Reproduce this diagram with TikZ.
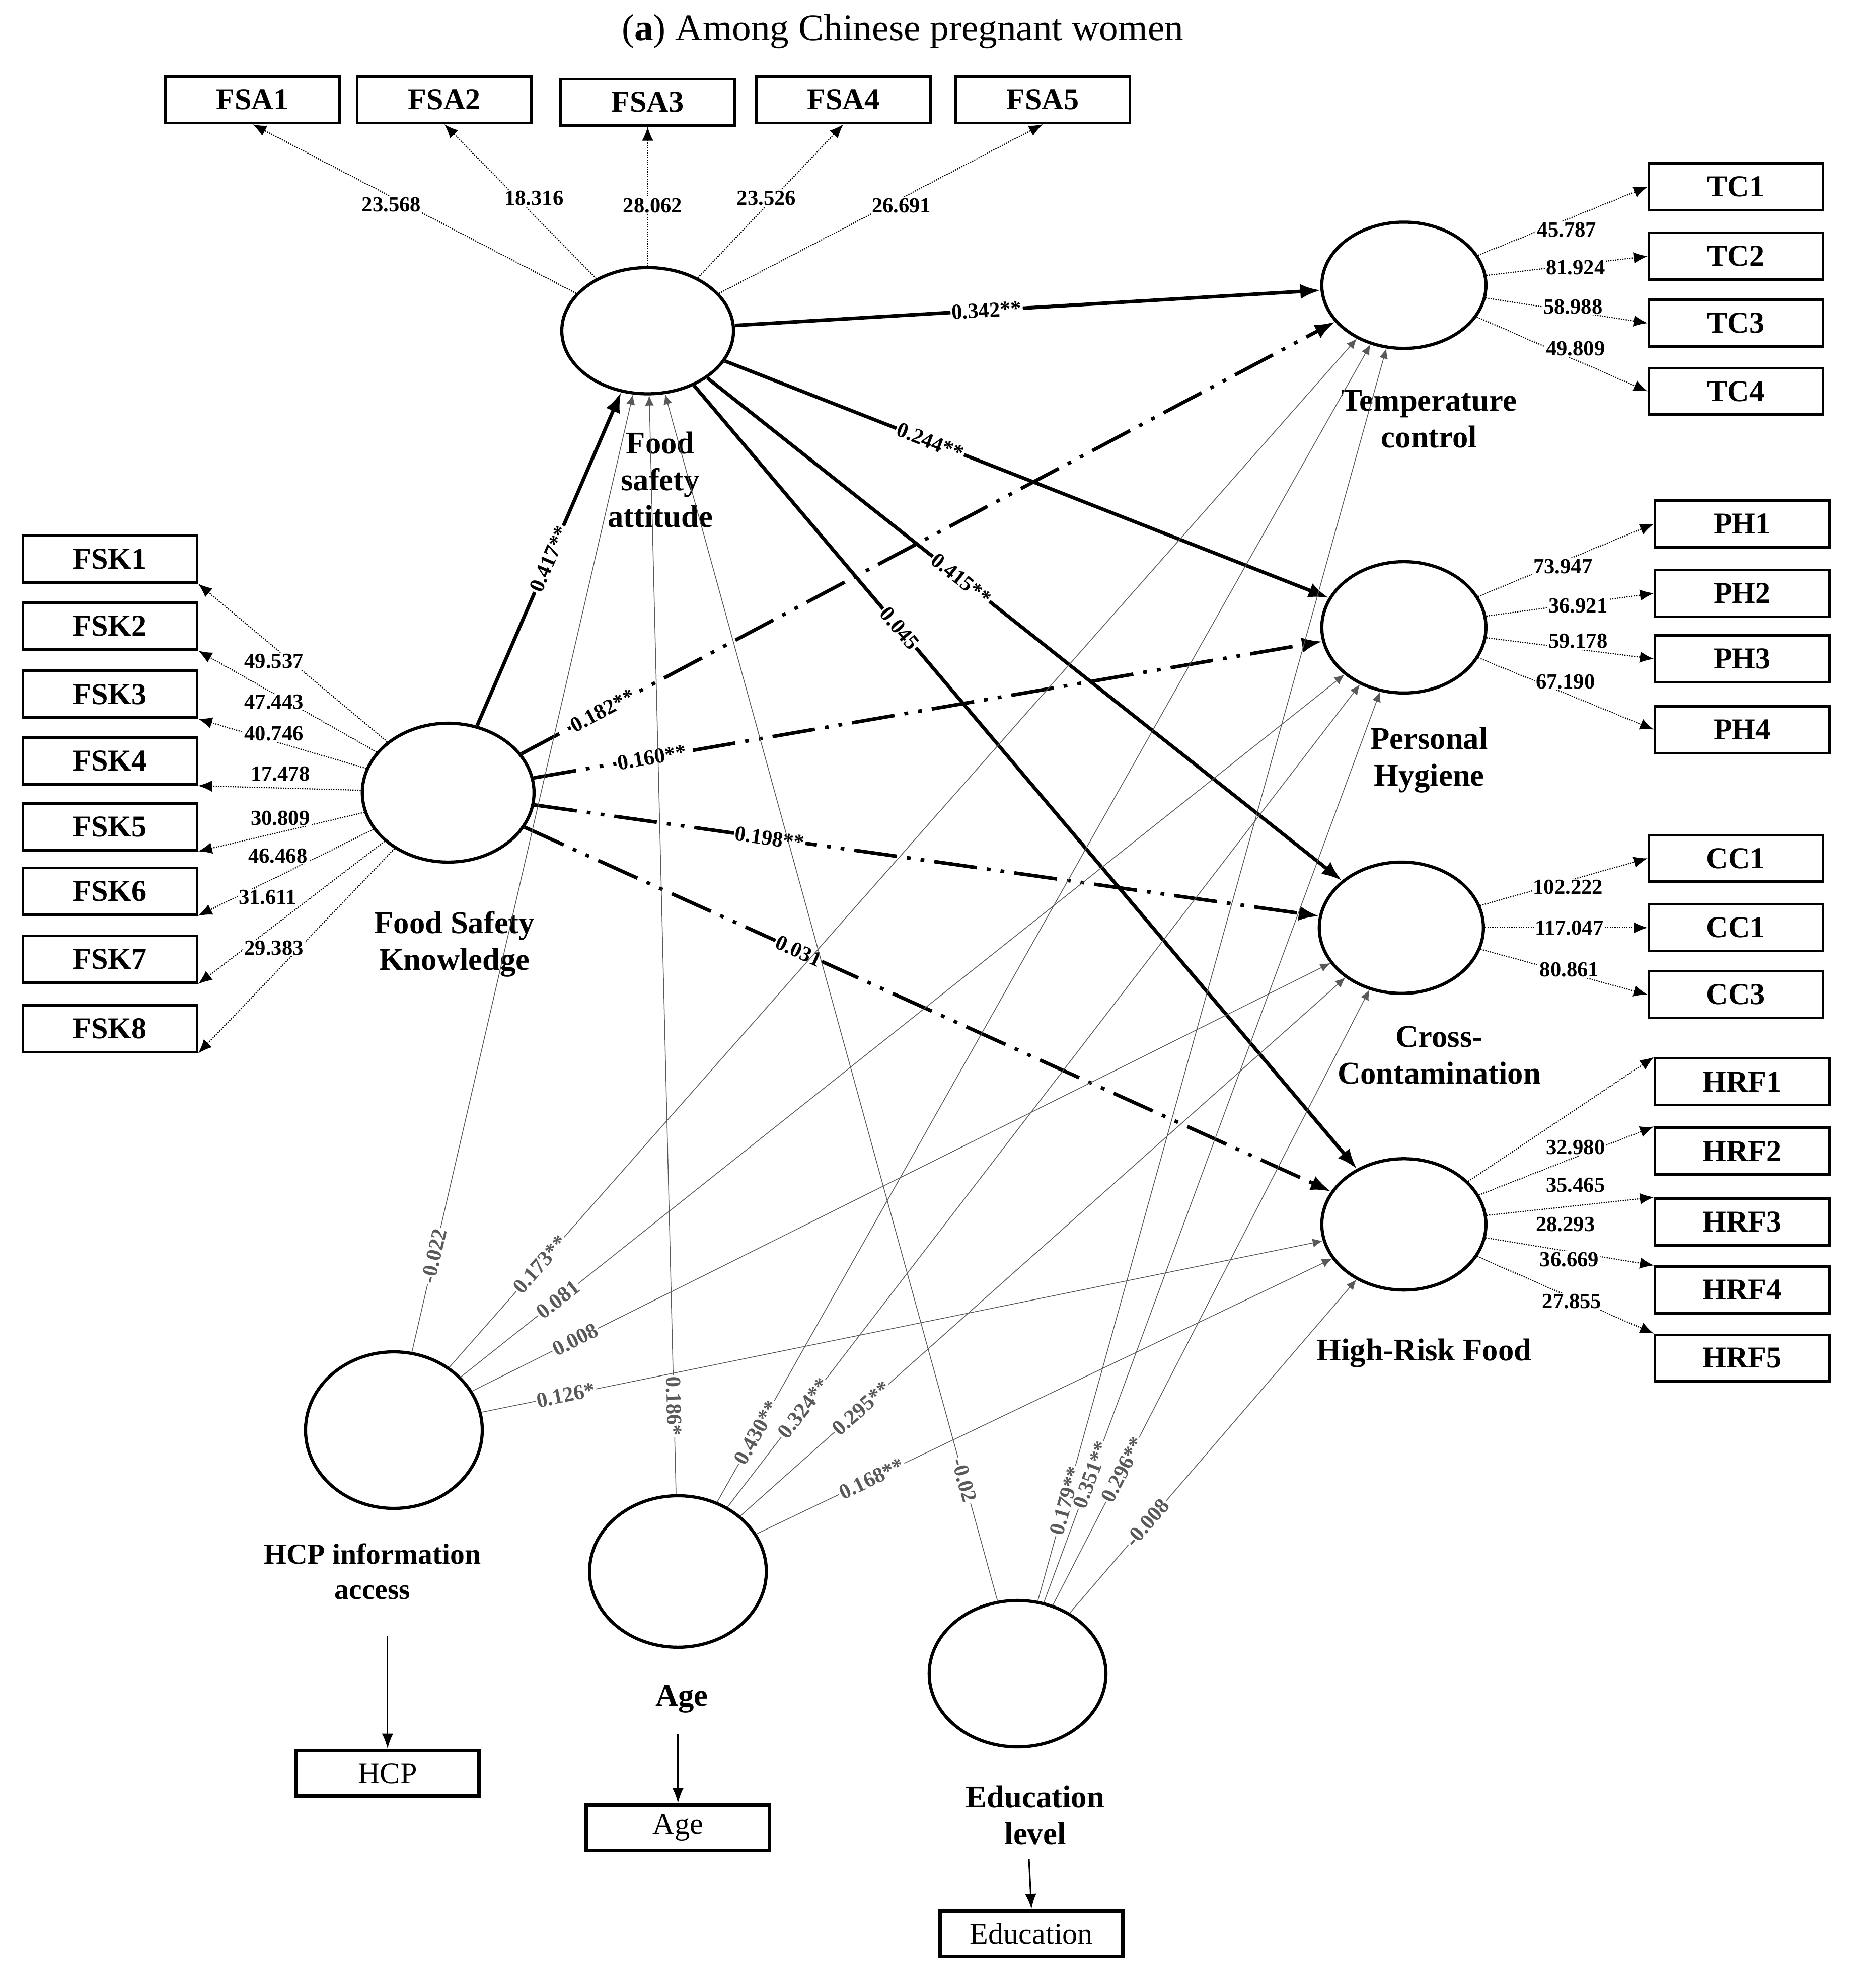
\documentclass[tikz,border=0pt]{standalone}
\usepackage{fontspec}
\setmainfont{Liberation Serif}
\usetikzlibrary{arrows.meta,shapes.geometric}
\begin{document}
\begin{tikzpicture}[x=1pt,y=-1pt,
 lat/.style={ellipse,draw,line width=2.5pt,minimum width=#1*2pt},
 box/.style={draw,line width=2pt,minimum width=138pt,minimum height=37pt,font=\fontsize{24}{24}\selectfont\bfseries,inner sep=0pt},
 tbox/.style={draw,line width=3pt,minimum width=145pt,minimum height=36pt,font=\fontsize{24}{24}\selectfont,inner sep=0pt},
 lbl/.style={font=\fontsize{25}{29}\selectfont\bfseries,align=center},
 val/.style={font=\fontsize{17}{17}\selectfont\bfseries,inner sep=1pt},
 mes/.style={densely dotted,line width=0.9pt,-{Latex[length=11pt,width=9pt]}},
 thick path/.style={line width=2.8pt,-{Latex[length=16pt,width=12pt]}},
 dd path/.style={line width=2.8pt,dash pattern=on 34pt off 8pt on 3pt off 8pt on 3pt off 8pt,-{Latex[length=16pt,width=12pt]}},
 thin path/.style={line width=0.6pt,gray!70!black,-{Latex[length=8pt,width=7pt]}},
 pl/.style={val,fill=white,sloped}]
\useasboundingbox (0,0) rectangle (1470,1575);
\node[font=\fontsize{30}{30}\selectfont] (title) at (715,25) {(\textbf{a}) Among Chinese pregnant women};
% latent variables
\node[lat=68,minimum height=100pt] (FSA) at (513,262) {};
\node[lat=68,minimum height=110pt] (FSK) at (355,628) {};
\node[lat=65,minimum height=100pt] (TC) at (1112,226) {};
\node[lat=65,minimum height=104pt] (PH) at (1112,497) {};
\node[lat=65,minimum height=104pt] (CC) at (1110,735) {};
\node[lat=65,minimum height=104pt] (HRF) at (1112,970) {};
\node[lat=70,minimum height=124pt] (HCP) at (312,1133) {};
\node[lat=70,minimum height=120pt] (AGE) at (537,1245) {};
\node[lat=70,minimum height=116pt] (EDU) at (806,1326) {};
\node[lbl] (lFSA) at (523,380) {Food\\safety\\attitude};
\node[lbl] (lFSK) at (360,748) {Food Safety\\Knowledge};
\node[lbl] (lTC) at (1132,332) {Temperature\\control};
\node[lbl] (lPH) at (1132,602) {Personal\\Hygiene};
\node[lbl] (lCC) at (1140,836) {Cross-\\Contamination};
\node[lbl] (lHRF) at (1128,1072) {High-Risk Food};
\node[lbl,font=\fontsize{23}{28}\selectfont\bfseries] (lHCP) at (295,1245) {HCP information\\access};
\node[lbl] (lAGE) at (540,1346) {Age};
\node[lbl] (lEDU) at (820,1438) {Education\\level};
% indicator boxes
\foreach \n/\x/\y in {FSA1/200/79,FSA2/352/79,FSA3/513/81,FSA4/668/79,FSA5/826/79}{\node[box] (\n) at (\x,\y) {\n};}
\foreach \n/\y in {FSK1/443,FSK2/496,FSK3/550,FSK4/603,FSK5/655,FSK6/706,FSK7/760,FSK8/815}{\node[box] (\n) at (87,\y) {\n};}
\foreach \n/\y in {TC1/148,TC2/203,TC3/256,TC4/310}{\node[box] (\n) at (1375,\y) {\n};}
\foreach \n/\y in {PH1/415,PH2/470,PH3/522,PH4/578}{\node[box] (\n) at (1380,\y) {\n};}
\node[box] (CCa) at (1375,680) {CC1};
\node[box] (CCb) at (1375,735) {CC1};
\node[box] (CCc) at (1375,788) {CC3};
\foreach \n/\y in {HRF1/857,HRF2/912,HRF3/968,HRF4/1022,HRF5/1076}{\node[box] (\n) at (1380,\y) {\n};}
\node[tbox] (bHCP) at (307,1405) {HCP};
\node[tbox] (bAGE) at (537,1448) {Age};
\node[tbox] (bEDU) at (817,1532) {Education};
\draw[line width=1.2pt,-{Latex[length=12pt,width=9pt]}] (lHCP.south) ++(12,25) coordinate (h1) -- (bHCP.north);
\draw[line width=1.2pt,-{Latex[length=12pt,width=9pt]}] (lAGE.south) ++(-3,13) coordinate (a1) -- (bAGE.north);
\draw[line width=1.2pt,-{Latex[length=12pt,width=9pt]}] (lEDU.south) ++(-5,8) coordinate (e1) -- (bEDU.north);
% measurement paths
\foreach \b in {FSA1,FSA2,FSA3,FSA4,FSA5}{\draw[mes] (FSA) -- (\b.south);}
\foreach \b in {FSK1,FSK2,FSK3,FSK4,FSK5,FSK6,FSK7,FSK8}{\draw[mes] (FSK) -- (\b.south east);}
\foreach \b in {TC1,TC2,TC3,TC4}{\draw[mes] (TC) -- (\b.west);}
\foreach \b in {PH1,PH2,PH3,PH4}{\draw[mes] (PH) -- (\b.west);}
\foreach \b in {CCa,CCb,CCc}{\draw[mes] (CC) -- (\b.west);}
\foreach \b in {HRF1,HRF2,HRF3,HRF4,HRF5}{\draw[mes] (HRF) -- (\b.north west);}
% loading values
\foreach \v/\x/\y in {23.568/310/162,18.316/423/157,28.062/517/163,23.526/607/157,26.691/714/163,
 49.537/217/524,47.443/217/556,40.746/217/581,17.478/222/613,30.809/222/648,46.468/220/678,31.611/212/711,29.383/217/751,
 45.787/1241/182,81.924/1248/212,58.988/1246/243,49.809/1248/276,
 73.947/1238/449,36.921/1250/480,59.178/1250/508,67.190/1240/540,
 102.222/1242/703,117.047/1243/735,80.861/1243/768,
 32.980/1248/909,35.465/1248/939,28.293/1240/970,36.669/1243/998,27.855/1245/1031}
 {\node[val,fill=white] at (\x,\y) {\v};}
% structural paths
\draw[thick path] (FSA) -- node[pl,pos=0.43] {0.342**} (TC);
\draw[thick path] (FSA) -- node[pl,pos=0.34] {0.244**} (PH);
\draw[thick path] (FSA) -- node[pl,pos=0.4] {0.415**} (CC);
\draw[thick path] (FSA) -- node[pl,pos=0.31] {0.045} (HRF);
\draw[thick path] (FSK) -- node[pl,pos=0.5] {0.417**} (FSA);
\draw[dd path] (FSK) -- node[pl,pos=0.1] {0.182**} (TC);
\draw[dd path] (FSK) -- node[pl,pos=0.15] {0.160**} (PH);
\draw[dd path] (FSK) -- node[pl,pos=0.3] {0.198**} (CC);
\draw[dd path] (FSK) -- node[pl,pos=0.34] {0.031} (HRF);
\draw[thin path] (HCP) -- node[pl,pos=0.1] {-0.022} (FSA);
\draw[thin path] (HCP) -- node[pl,pos=0.1] {0.173**} (TC);
\draw[thin path] (HCP) -- node[pl,pos=0.11] {0.081} (PH);
\draw[thin path] (HCP) -- node[pl,pos=0.12] {0.008} (CC);
\draw[thin path] (HCP) -- node[pl,pos=0.1] {0.126*} (HRF);
\draw[thin path] (AGE) -- node[pl,pos=0.08] {0.186*} (FSA);
\draw[thin path] (AGE) -- node[pl,pos=0.06] {0.430**} (TC);
\draw[thin path] (AGE) -- node[pl,pos=0.12] {0.324**} (PH);
\draw[thin path] (AGE) -- node[pl,pos=0.2] {0.295**} (CC);
\draw[thin path] (AGE) -- node[pl,pos=0.2] {0.168**} (HRF);
\draw[thin path] (EDU) -- node[pl,pos=0.1] {-0.02} (FSA);
\draw[thin path] (EDU) -- node[pl,pos=0.08] {0.179**} (TC);
\draw[thin path] (EDU) -- node[pl,pos=0.14] {0.351**} (PH);
\draw[thin path] (EDU) -- node[pl,pos=0.22] {0.296**} (CC);
\draw[thin path] (EDU) -- node[pl,pos=0.27] {-0.008} (HRF);
\end{tikzpicture}
\end{document}
